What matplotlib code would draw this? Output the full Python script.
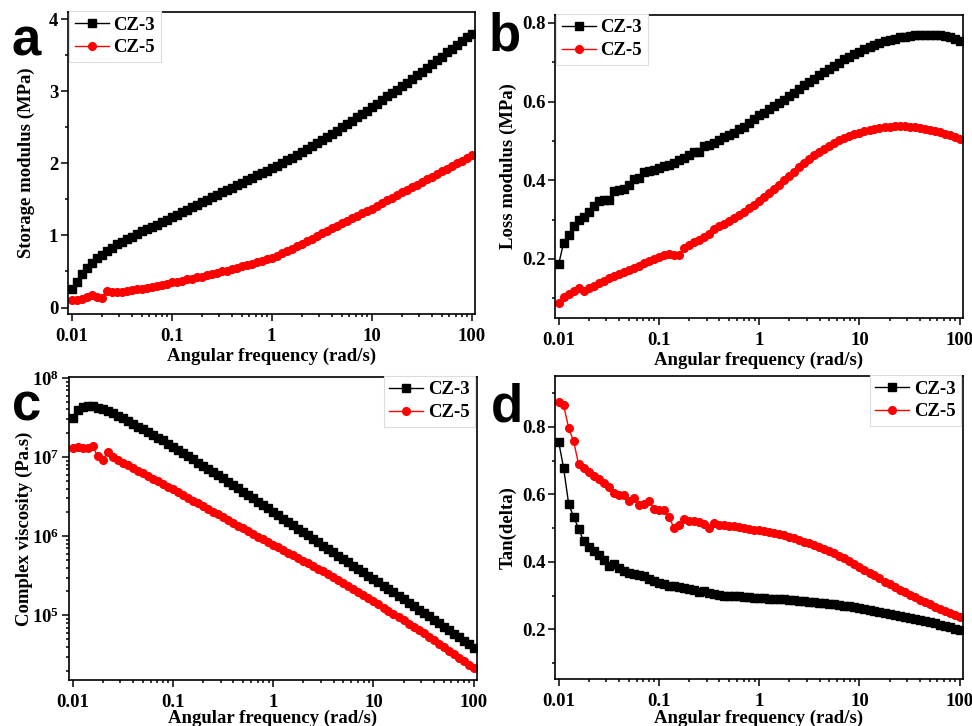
"""Rheology of the CZ-3 and CZ-5 samples: four-panel frequency sweep figure.

Panels show storage modulus, loss modulus, complex viscosity and tan(delta)
against angular frequency for both formulations.
"""
import math

import matplotlib

matplotlib.use("Agg")
import matplotlib.pyplot as plt
from matplotlib.ticker import (FixedLocator, FuncFormatter, LogLocator,
                               MultipleLocator, NullFormatter)

# sweep frequencies, rad/s (20 points per decade)
FREQ = [
    0.01, 0.0112, 0.0126, 0.0141, 0.0158, 0.0178, 0.02, 0.0224, 0.0251, 0.0282,
    0.0316, 0.0355, 0.0398, 0.0447, 0.0501, 0.0562, 0.0631, 0.0708, 0.0794, 0.0891,
    0.1, 0.112, 0.126, 0.141, 0.158, 0.178, 0.2, 0.224, 0.251, 0.282,
    0.316, 0.355, 0.398, 0.447, 0.501, 0.562, 0.631, 0.708, 0.794, 0.891,
    1.0, 1.12, 1.26, 1.41, 1.58, 1.78, 2.0, 2.24, 2.51, 2.82,
    3.16, 3.55, 3.98, 4.47, 5.01, 5.62, 6.31, 7.08, 7.94, 8.91,
    10.0, 11.2, 12.6, 14.1, 15.8, 17.8, 20.0, 22.4, 25.1, 28.2,
    31.6, 35.5, 39.8, 44.7, 50.1, 56.2, 63.1, 70.8, 79.4, 89.1,
    100.0,
]

# storage modulus G', MPa
STORAGE_CZ3 = [
    0.25, 0.355, 0.47, 0.555, 0.62, 0.68, 0.735, 0.785, 0.83, 0.875,
    0.91, 0.945, 0.985, 1.02, 1.055, 1.085, 1.12, 1.15, 1.18, 1.21,
    1.25, 1.28, 1.32, 1.35, 1.39, 1.42, 1.46, 1.49, 1.53, 1.56,
    1.60, 1.63, 1.66, 1.70, 1.73, 1.77, 1.80, 1.84, 1.87, 1.90,
    1.93, 1.97, 2.00, 2.04, 2.08, 2.12, 2.16, 2.20, 2.24, 2.28,
    2.32, 2.36, 2.41, 2.45, 2.50, 2.54, 2.59, 2.64, 2.68, 2.73,
    2.78, 2.83, 2.88, 2.93, 2.98, 3.02, 3.07, 3.12, 3.17, 3.22,
    3.27, 3.32, 3.38, 3.43, 3.48, 3.54, 3.59, 3.64, 3.70, 3.75,
    3.80,
]
STORAGE_CZ5 = [
    0.10, 0.11, 0.12, 0.14, 0.18, 0.14, 0.13, 0.23, 0.21, 0.21,
    0.22, 0.23, 0.24, 0.25, 0.26, 0.27, 0.28, 0.30, 0.31, 0.33,
    0.35, 0.36, 0.37, 0.39, 0.40, 0.42, 0.43, 0.45, 0.46, 0.48,
    0.50, 0.51, 0.53, 0.55, 0.57, 0.59, 0.61, 0.63, 0.65, 0.67,
    0.69, 0.72, 0.75, 0.78, 0.81, 0.85, 0.88, 0.92, 0.95, 0.99,
    1.03, 1.06, 1.10, 1.13, 1.17, 1.20, 1.24, 1.27, 1.31, 1.34,
    1.37, 1.41, 1.45, 1.49, 1.52, 1.56, 1.60, 1.63, 1.67, 1.70,
    1.74, 1.78, 1.81, 1.85, 1.89, 1.92, 1.96, 2.00, 2.03, 2.07,
    2.11,
]

# loss modulus G'', MPa
LOSS_CZ3 = [
    0.186, 0.241, 0.262, 0.283, 0.300, 0.306, 0.320, 0.334, 0.347, 0.351,
    0.351, 0.372, 0.374, 0.379, 0.389, 0.402, 0.406, 0.420, 0.423, 0.426,
    0.431, 0.437, 0.440, 0.444, 0.452, 0.457, 0.465, 0.471, 0.473, 0.488,
    0.489, 0.495, 0.503, 0.510, 0.515, 0.520, 0.530, 0.535, 0.545, 0.555,
    0.565, 0.572, 0.580, 0.588, 0.597, 0.605, 0.614, 0.622, 0.632, 0.641,
    0.650, 0.658, 0.667, 0.676, 0.683, 0.691, 0.699, 0.707, 0.714, 0.720,
    0.727, 0.733, 0.739, 0.744, 0.749, 0.753, 0.757, 0.760, 0.763, 0.765,
    0.767, 0.769, 0.770, 0.770, 0.770, 0.769, 0.768, 0.766, 0.763, 0.759,
    0.755,
]
LOSS_CZ5 = [
    0.088, 0.103, 0.111, 0.118, 0.126, 0.118, 0.126, 0.132, 0.138, 0.145,
    0.152, 0.156, 0.162, 0.167, 0.171, 0.177, 0.181, 0.190, 0.196, 0.200,
    0.205, 0.211, 0.213, 0.209, 0.211, 0.228, 0.235, 0.242, 0.249, 0.256,
    0.264, 0.275, 0.283, 0.290, 0.296, 0.303, 0.311, 0.320, 0.329, 0.338,
    0.347, 0.357, 0.367, 0.378, 0.389, 0.400, 0.411, 0.422, 0.433, 0.444,
    0.454, 0.463, 0.472, 0.480, 0.488, 0.495, 0.501, 0.507, 0.512, 0.517,
    0.521, 0.525, 0.528, 0.531, 0.533, 0.535, 0.536, 0.537, 0.537, 0.537,
    0.536, 0.535, 0.533, 0.531, 0.528, 0.525, 0.522, 0.518, 0.514, 0.509,
    0.504,
]

# complex viscosity, Pa.s
VISCOSITY_CZ3 = [
    3.09e7, 3.89e7, 4.27e7, 4.42e7, 4.37e7, 4.22e7, 4.03e7, 3.80e7, 3.59e7, 3.35e7,
    3.09e7, 2.85e7, 2.63e7, 2.43e7, 2.24e7, 2.07e7, 1.91e7, 1.76e7, 1.62e7, 1.48e7,
    1.35e7, 1.23e7, 1.12e7, 1.02e7, 9.33e6, 8.51e6, 7.76e6, 7.08e6, 6.46e6, 5.89e6,
    5.37e6, 4.88e6, 4.43e6, 4.02e6, 3.65e6, 3.31e6, 3.01e6, 2.73e6, 2.48e6, 2.25e6,
    2.04e6, 1.85e6, 1.67e6, 1.52e6, 1.37e6, 1.24e6, 1.13e6, 1.02e6, 9.25e5, 8.37e5,
    7.59e5, 6.89e5, 6.25e5, 5.68e5, 5.15e5, 4.68e5, 4.25e5, 3.85e5, 3.50e5, 3.18e5,
    2.88e5, 2.61e5, 2.37e5, 2.14e5, 1.94e5, 1.76e5, 1.59e5, 1.44e5, 1.31e5, 1.18e5,
    1.07e5, 9.68e4, 8.75e4, 7.91e4, 7.14e4, 6.46e4, 5.83e4, 5.27e4, 4.76e4, 4.31e4,
    3.89e4,
]
VISCOSITY_CZ5 = [
    1.32e7, 1.35e7, 1.32e7, 1.32e7, 1.38e7, 1.02e7, 9.12e6, 1.17e7, 1.00e7, 9.23e6,
    8.51e6, 7.87e6, 7.28e6, 6.73e6, 6.22e6, 5.75e6, 5.32e6, 4.92e6, 4.55e6, 4.21e6,
    3.89e6, 3.59e6, 3.31e6, 3.05e6, 2.82e6, 2.60e6, 2.40e6, 2.21e6, 2.04e6, 1.88e6,
    1.74e6, 1.60e6, 1.48e6, 1.36e6, 1.26e6, 1.16e6, 1.07e6, 9.89e5, 9.12e5, 8.41e5,
    7.76e5, 7.19e5, 6.65e5, 6.17e5, 5.70e5, 5.28e5, 4.89e5, 4.53e5, 4.19e5, 3.88e5,
    3.59e5, 3.30e5, 3.02e5, 2.77e5, 2.54e5, 2.33e5, 2.14e5, 1.96e5, 1.80e5, 1.65e5,
    1.51e5, 1.38e5, 1.25e5, 1.14e5, 1.04e5, 9.44e4, 8.59e4, 7.82e4, 7.11e4, 6.47e4,
    5.89e4, 5.32e4, 4.81e4, 4.34e4, 3.93e4, 3.55e4, 3.21e4, 2.90e4, 2.62e4, 2.37e4,
    2.14e4,
]

# loss factor tan(delta)
TAN_CZ3 = [
    0.756, 0.679, 0.571, 0.534, 0.499, 0.461, 0.443, 0.433, 0.420, 0.405,
    0.388, 0.393, 0.383, 0.373, 0.367, 0.363, 0.361, 0.359, 0.350, 0.343,
    0.339, 0.335, 0.330, 0.328, 0.326, 0.323, 0.320, 0.316, 0.310, 0.314,
    0.308, 0.304, 0.301, 0.300, 0.300, 0.299, 0.298, 0.297, 0.296, 0.294,
    0.293, 0.292, 0.291, 0.290, 0.290, 0.289, 0.288, 0.287, 0.285, 0.284,
    0.282, 0.281, 0.279, 0.278, 0.276, 0.274, 0.272, 0.270, 0.268, 0.266,
    0.263, 0.261, 0.258, 0.256, 0.253, 0.250, 0.247, 0.244, 0.241, 0.238,
    0.235, 0.232, 0.228, 0.225, 0.221, 0.218, 0.214, 0.210, 0.206, 0.202,
    0.198,
]
TAN_CZ5 = [
    0.875, 0.865, 0.796, 0.758, 0.690, 0.679, 0.667, 0.654, 0.645, 0.633,
    0.621, 0.603, 0.598, 0.598, 0.581, 0.588, 0.568, 0.571, 0.580, 0.558,
    0.553, 0.553, 0.532, 0.502, 0.509, 0.526, 0.522, 0.522, 0.517, 0.512,
    0.502, 0.514, 0.509, 0.510, 0.507, 0.505, 0.503, 0.500, 0.497, 0.496,
    0.495, 0.492, 0.489, 0.486, 0.483, 0.480, 0.475, 0.470, 0.465, 0.460,
    0.455, 0.450, 0.444, 0.438, 0.432, 0.426, 0.419, 0.411, 0.403, 0.395,
    0.386, 0.377, 0.368, 0.360, 0.351, 0.342, 0.334, 0.326, 0.318, 0.310,
    0.302, 0.295, 0.288, 0.281, 0.274, 0.267, 0.261, 0.255, 0.249, 0.243,
    0.238,
]

SAMPLES = ["CZ-3", "CZ-5"]
COLORS = ["black", "red"]
MARKERS = ["s", "o"]

plt.rcParams.update({
    "font.family": ["Liberation Serif", "DejaVu Serif"],
    "font.weight": "bold",
    "axes.labelweight": "bold",
    "axes.labelsize": 13.5,
    "mathtext.fontset": "custom",
    "mathtext.rm": "Liberation Serif:bold",
    "mathtext.default": "rm",
})


def style_axes(ax, ylabel, ylabel_x, xlabel_pad=2):
    ax.set_xscale("log")
    ax.set_xlim(0.0092, 108)
    ax.xaxis.set_major_locator(FixedLocator([0.01, 0.1, 1, 10, 100]))
    ax.xaxis.set_minor_locator(LogLocator(base=10, subs=range(2, 10), numticks=20))
    ax.xaxis.set_major_formatter(FuncFormatter(lambda v, _: f"{v:g}"))
    ax.xaxis.set_minor_formatter(NullFormatter())
    ax.set_xlabel("Angular frequency (rad/s)", labelpad=xlabel_pad)
    ax.set_ylabel(ylabel)
    ax.yaxis.set_label_coords(ylabel_x, 0.5)
    ax.tick_params(which="both", direction="out", top=False, right=False, width=1.1)
    ax.tick_params(which="major", length=5, labelsize=13.5)
    ax.tick_params(which="minor", length=2.5)
    ax.tick_params(axis="x", which="major", pad=5)
    ax.tick_params(axis="y", which="major", pad=2)
    for spine in ax.spines.values():
        spine.set_linewidth(1.2)


def power_label(value, _pos):
    return rf"$10^{{{round(math.log10(value))}}}$"


def plot_pair(ax, series):
    for values, label, color, marker in zip(series, SAMPLES, COLORS, MARKERS):
        ax.plot(FREQ, values, color=color, marker=marker, markersize=5.5,
                linewidth=1.0, label=label)


def add_legend(ax, loc, anchor):
    leg = ax.legend(loc=loc, bbox_to_anchor=anchor, borderaxespad=0,
                    fancybox=False, framealpha=1, edgecolor="#dcdcdc",
                    fontsize=13.5, handlelength=1.8, handletextpad=0.25,
                    borderpad=0.3, labelspacing=0.3)
    leg.get_frame().set_linewidth(0.8)


fig = plt.figure(figsize=(9.72, 7.26), dpi=100)
ax_a = fig.add_axes([0.0700, 0.5675, 0.4187, 0.4160])
ax_b = fig.add_axes([0.5710, 0.5620, 0.4198, 0.4174])
ax_c = fig.add_axes([0.0710, 0.0634, 0.4198, 0.4174])
ax_d = fig.add_axes([0.5710, 0.0647, 0.4198, 0.4174])

# a: storage modulus
plot_pair(ax_a, [STORAGE_CZ3, STORAGE_CZ5])
style_axes(ax_a, "Storage modulus (MPa)", -0.080)
ax_a.set_ylim(-0.09, 4.1)
ax_a.yaxis.set_major_locator(MultipleLocator(1))
ax_a.yaxis.set_minor_locator(MultipleLocator(0.5))
add_legend(ax_a, "upper left", (0.003, 1.004))

# b: loss modulus
plot_pair(ax_b, [LOSS_CZ3, LOSS_CZ5])
style_axes(ax_b, "Loss modulus (MPa)", -0.092)
ax_b.set_ylim(0.05, 0.82)
ax_b.yaxis.set_major_locator(MultipleLocator(0.2))
ax_b.yaxis.set_minor_locator(MultipleLocator(0.1))
add_legend(ax_b, "upper left", (0.003, 1.004))

# c: complex viscosity
plot_pair(ax_c, [VISCOSITY_CZ3, VISCOSITY_CZ5])
style_axes(ax_c, "Complex viscosity (Pa.s)", -0.088, xlabel_pad=-0.5)
ax_c.set_yscale("log")
ax_c.set_ylim(1.52e4, 1.03e8)
ax_c.yaxis.set_major_locator(FixedLocator([1e5, 1e6, 1e7, 1e8]))
ax_c.yaxis.set_minor_locator(LogLocator(base=10, subs=range(2, 10), numticks=20))
ax_c.yaxis.set_major_formatter(FuncFormatter(power_label))
ax_c.yaxis.set_minor_formatter(NullFormatter())
add_legend(ax_c, "upper right", (0.995, 1.004))

# d: loss factor
plot_pair(ax_d, [TAN_CZ3, TAN_CZ5])
style_axes(ax_d, "Tan(delta)", -0.093, xlabel_pad=-0.5)
ax_d.set_ylim(0.053, 0.951)
ax_d.yaxis.set_major_locator(MultipleLocator(0.2))
ax_d.yaxis.set_minor_locator(MultipleLocator(0.1))
add_legend(ax_d, "upper right", (0.995, 1.004))

# panel letters
for x, y, letter in [(0.012, 0.924, "a"), (0.503, 0.931, "b"),
                     (0.012, 0.421, "c"), (0.505, 0.420, "d")]:
    fig.text(x, y, letter, fontsize=38, fontweight="bold",
             family=["Liberation Sans", "DejaVu Sans"], va="baseline")

fig.savefig("out.png", dpi=100)
